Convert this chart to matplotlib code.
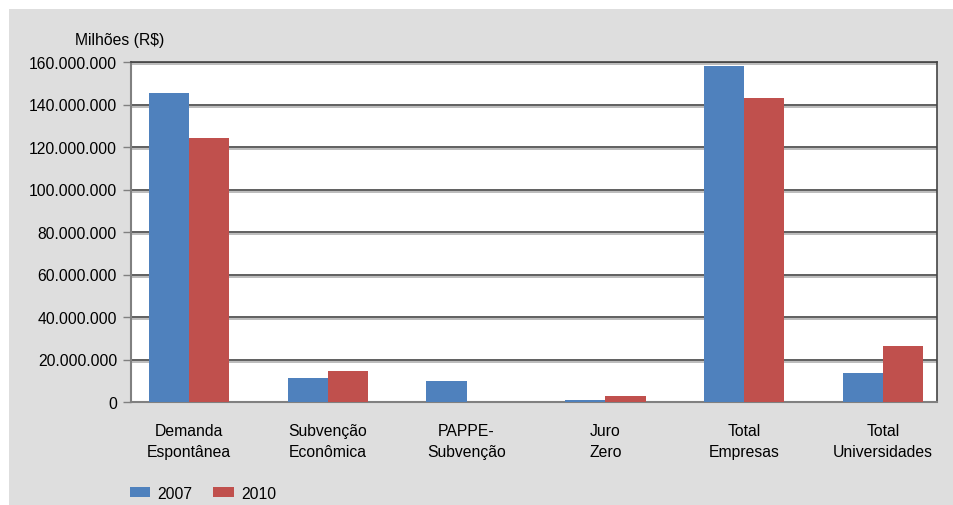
import matplotlib
matplotlib.use("Agg")
import matplotlib.pyplot as plt
import matplotlib.ticker as mtick
import matplotlib.patheffects as pe
import numpy as np

categorias = ["Demanda\nEspontânea", "Subvenção\nEconômica", "PAPPE-\nSubvenção",
              "Juro\nZero", "Total\nEmpresas", "Total\nUniversidades"]
anos = ["2007", "2010"]
valores_2007 = [145_500_000, 11_300_000, 10_000_000, 1_000_000, 158_100_000, 13_700_000]
valores_2010 = [124_300_000, 14_600_000, 0, 2_900_000, 143_200_000, 26_500_000]
cores = ["#4f81bd", "#c0504d"]

plt.rcParams['font.family'] = ['Liberation Sans Narrow', 'Liberation Sans', 'DejaVu Sans']
plt.rcParams['font.size'] = 11.3

fig = plt.figure(figsize=(9.54, 5.06), dpi=100)
fig.patch.set_facecolor("#dedede")
# white margin strips along the top and left edges
for r in [(0, 1 - 10 / 506, 1, 10 / 506), (0, 0, 9 / 954, 1)]:
    fig.patches.append(plt.Rectangle(r[:2], r[2], r[3], transform=fig.transFigure,
                                     facecolor="white", edgecolor="none", zorder=0))

ax = fig.add_axes([131 / 954, 1 - 403 / 506, 806 / 954, 340 / 506])
ax.set_zorder(2)
ax.set_facecolor("white")

x = np.arange(len(categorias))
w = 0.29
ax.bar(x - w / 2, valores_2007, w, color=cores[0], label=anos[0], zorder=3)
ax.bar(x + w / 2, valores_2010, w, color=cores[1], label=anos[1], zorder=3)

ax.set_xlim(-0.418, 5.389)
ax.set_ylim(0, 160_000_000)
ax.set_yticks(np.arange(0, 160_000_001, 20_000_000))
ax.yaxis.set_major_formatter(mtick.FuncFormatter(lambda v, p: f"{v:,.0f}".replace(",", ".")))
ax.set_xticks(x)
ax.set_xticklabels(categorias, linespacing=1.5)
ax.tick_params(axis="x", length=0, pad=15)
ax.tick_params(axis="y", length=6, width=1, color="#808080", pad=4)

ax.yaxis.grid(True, color="#444444", linewidth=1.2,
              path_effects=[pe.SimpleLineShadow(offset=(0, -1.5), shadow_color="#b0b0b0", alpha=1),
                            pe.Normal()])
ax.set_axisbelow(True)

for s in ["left", "bottom"]:
    ax.spines[s].set_color("#808080")
    ax.spines[s].set_linewidth(1.5)
ax.spines["top"].set_color("#444444")
ax.spines["top"].set_linewidth(1.2)
ax.spines["right"].set_color("#444444")
ax.spines["right"].set_linewidth(1.2)

fig.text(120 / 954, 1 - 40 / 506, "Milhões (R$)", ha="center", va="center")

ax.legend(loc="center left", bbox_to_anchor=(-0.0093, -0.268), ncol=2, frameon=False,
          handlelength=1.3, handleheight=0.65, columnspacing=1.35, handletextpad=0.45,
          borderaxespad=0)

fig.savefig("out.png", dpi=100)
